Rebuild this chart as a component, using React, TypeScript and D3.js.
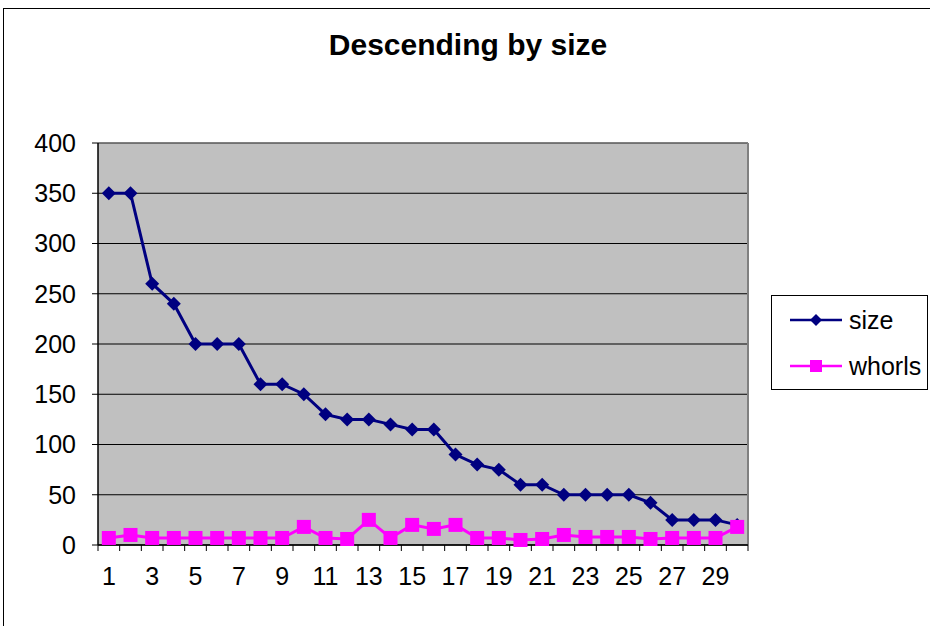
import React from "react";
import * as d3 from "d3";

const categories = Array.from({ length: 30 }, (_, i) => String(i + 1));
const sizeValues = [350, 350, 260, 240, 200, 200, 200, 160, 160, 150, 130, 125, 125, 120, 115, 115, 90, 80, 75, 60, 60, 50, 50, 50, 50, 42, 25, 25, 25, 20];
const whorlValues = [7, 10, 7, 7, 7, 7, 7, 7, 7, 18, 7, 6, 25, 7, 20, 16, 20, 7, 7, 5, 6, 10, 8, 8, 8, 6, 7, 7, 7, 18];
const yTicks = [0, 50, 100, 150, 200, 250, 300, 350, 400];
const seriesNames = ["size", "whorls"];
const title = "Descending by size";

const W = 930, H = 626;
const plot = { left: 98, right: 748, top: 143, bottom: 545 };

export default function App() {
  const x = d3.scaleBand().domain(categories).range([plot.left, plot.right]);
  const y = d3.scaleLinear().domain([0, 400]).range([plot.bottom, plot.top]);
  const cx = (c: string) => (x(c) as number) + x.bandwidth() / 2;
  const line = d3.line<number>().x((_, i) => cx(categories[i])).y((d) => y(d));
  const font = "Arial, 'Liberation Sans', sans-serif";
  const navy = "#000080";
  const magenta = "#FF00FF";
  const diamond = (px: number, py: number, r = 7) =>
    `M${px},${py - r}L${px + r},${py}L${px},${py + r}L${px - r},${py}Z`;

  return (
    <svg width={W} height={H} style={{ position: "absolute", left: 0, top: 0 }} fontFamily={font}>
      <rect x={0} y={0} width={W} height={H} fill="#fff" />
      <rect x={3.5} y={8.5} width={W + 10} height={H + 10} fill="none" stroke="#000" strokeWidth={1} />
      <text x={468} y={55} textAnchor="middle" fontSize={30} fontWeight="bold">{title}</text>

      <rect x={plot.left} y={plot.top} width={plot.right - plot.left} height={plot.bottom - plot.top} fill="#C0C0C0" />
      {yTicks.map((t) => (
        <line key={"g" + t} x1={plot.left} x2={plot.right} y1={y(t)} y2={y(t)} stroke="#000" strokeWidth={1} />
      ))}
      <line x1={plot.right} x2={plot.right} y1={plot.top} y2={plot.bottom} stroke="#808080" strokeWidth={2} />
      <line x1={plot.left} x2={plot.right} y1={plot.top} y2={plot.top} stroke="#808080" strokeWidth={1} />

      {/* y axis */}
      <line x1={plot.left} x2={plot.left} y1={plot.top} y2={plot.bottom} stroke="#000" strokeWidth={1.5} />
      {yTicks.map((t) => (
        <g key={"y" + t}>
          <line x1={plot.left - 6} x2={plot.left} y1={y(t)} y2={y(t)} stroke="#000" strokeWidth={1} />
          <text x={76} y={y(t)} dy="0.35em" textAnchor="end" fontSize={25}>{t}</text>
        </g>
      ))}

      {/* x axis */}
      <line x1={plot.left} x2={plot.right} y1={plot.bottom} y2={plot.bottom} stroke="#000" strokeWidth={1.5} />
      {categories.map((c) => (
        <line key={"xt" + c} x1={x(c) as number} x2={x(c) as number} y1={plot.bottom} y2={plot.bottom + 6} stroke="#000" strokeWidth={1} />
      ))}
      <line x1={plot.right} x2={plot.right} y1={plot.bottom} y2={plot.bottom + 6} stroke="#000" strokeWidth={1} />
      {categories.map((c, i) =>
        i % 2 === 0 ? (
          <text key={"xl" + c} x={cx(c)} y={585} textAnchor="middle" fontSize={25}>{c}</text>
        ) : null
      )}

      {/* size series */}
      <path d={line(sizeValues) || ""} fill="none" stroke={navy} strokeWidth={3} />
      {sizeValues.map((v, i) => (
        <path key={"s" + i} d={diamond(cx(categories[i]), y(v))} fill={navy} />
      ))}

      {/* whorls series */}
      <path d={line(whorlValues) || ""} fill="none" stroke={magenta} strokeWidth={3} />
      {whorlValues.map((v, i) => (
        <rect key={"w" + i} x={cx(categories[i]) - 7} y={y(v) - 7} width={14} height={14} fill={magenta} />
      ))}

      {/* legend */}
      <rect x={771.5} y={295.5} width={156} height={94} fill="#fff" stroke="#000" strokeWidth={1} />
      <line x1={790} x2={842} y1={320} y2={320} stroke={navy} strokeWidth={2.5} />
      <path d={diamond(816, 320, 6)} fill={navy} />
      <text x={849} y={320} dy="0.35em" fontSize={25}>{seriesNames[0]}</text>
      <line x1={790} x2={842} y1={366} y2={366} stroke={magenta} strokeWidth={2.5} />
      <rect x={810} y={360} width={12} height={12} fill={magenta} />
      <text x={849} y={366} dy="0.35em" fontSize={25}>{seriesNames[1]}</text>
    </svg>
  );
}
